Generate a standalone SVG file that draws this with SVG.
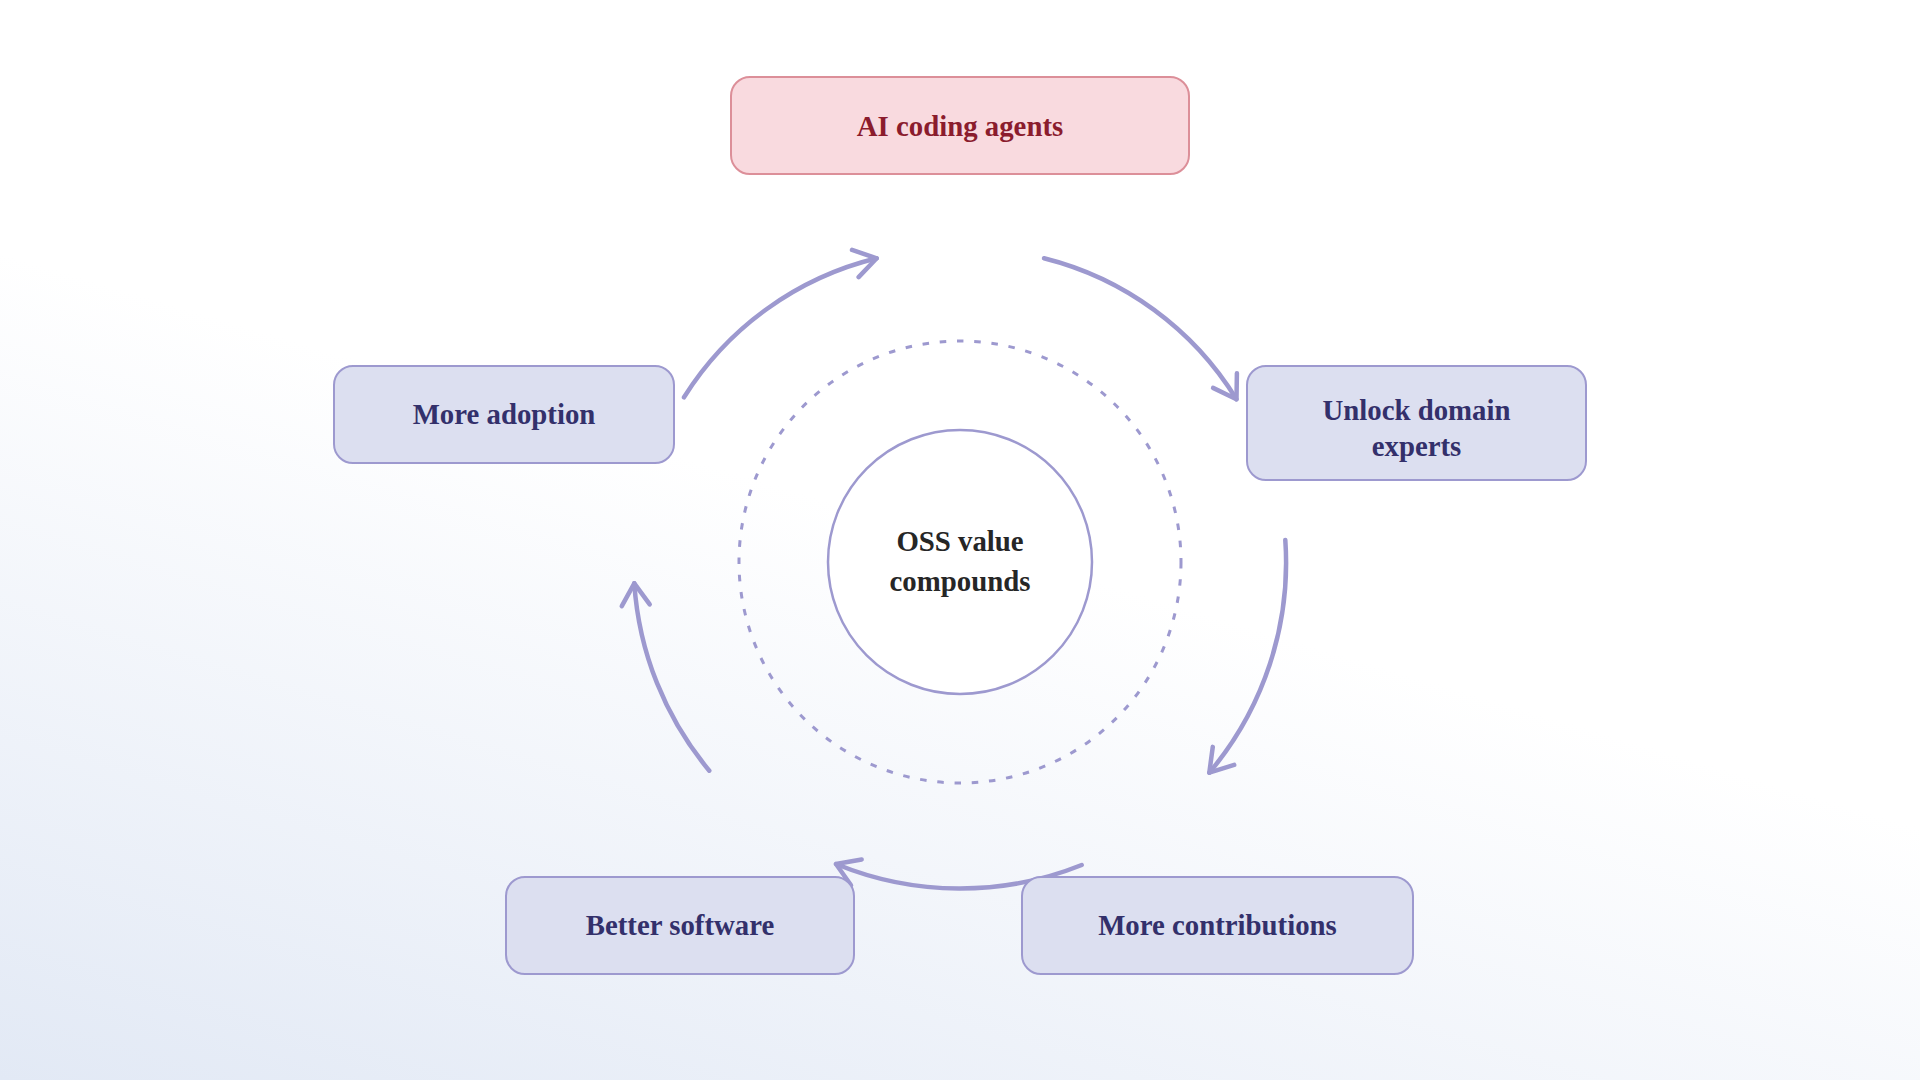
<svg xmlns="http://www.w3.org/2000/svg" width="1920" height="1080" viewBox="0 0 1920 1080">
  <defs>
    <linearGradient id="bg" gradientUnits="userSpaceOnUse" x1="1920" y1="0" x2="1465" y2="1519">
      <stop offset="0" stop-color="#ffffff"/>
      <stop offset="0.5" stop-color="#ffffff"/>
      <stop offset="1" stop-color="#e2e9f5"/>
    </linearGradient>
    <marker id="chev" markerUnits="userSpaceOnUse" markerWidth="60" markerHeight="60" viewBox="-30 -30 60 60" refX="0" refY="0" orient="auto" overflow="visible">
      <path d="M -22 -14 L 0 0 L -22 14" fill="none" stroke="#9d99cf" stroke-width="4.5" stroke-linecap="round" stroke-linejoin="round"/>
    </marker>
    <style>
      .box { fill: #dcdff0; stroke: #9d99cf; stroke-width: 2; }
      .hot { fill: #f9dadf; stroke: #dc8f99; stroke-width: 2; }
      .lbl { font-family: "Liberation Serif", "Times New Roman", serif; font-weight: bold; font-size: 28.8px; fill: #33306b; text-anchor: middle; }
      .hotlbl { fill: #8b1c2d; }
      .ctr { fill: #262626; }
      .arc { fill: none; stroke: #9d99cf; stroke-width: 4.5; stroke-linecap: round; marker-end: url(#chev); }
    </style>
  </defs>

  <rect x="0" y="0" width="1920" height="1080" fill="url(#bg)"/>

  <g id="rings">
    <circle cx="960" cy="562" r="221" fill="none" stroke="#9d99cf" stroke-width="3" stroke-dasharray="6.5 10.8"/>
  </g>

  <g id="connectors">
    <path class="arc" d="M 684 397.3 A 316 316 0 0 1 876.7 258.3"/>
    <path class="arc" d="M 1044 258.3 A 316 316 0 0 1 1236.5 399.3"/>
    <path class="arc" d="M 1285.3 540 A 326 326 0 0 1 1209.3 772.7"/>
    <path class="arc" d="M 1081.7 865 A 326 326 0 0 1 836 864"/>
    <path class="arc" d="M 709.3 770.7 A 326 326 0 0 1 634.3 583.3"/>
  </g>

  <g id="center">
    <circle cx="960" cy="562" r="132" fill="#ffffff" stroke="#9d99cf" stroke-width="2.5"/>
    <text class="lbl ctr" x="960" y="551">OSS value</text>
    <text class="lbl ctr" x="960" y="591">compounds</text>
  </g>

  <g id="ai-coding-agents">
    <rect class="hot" x="731" y="77" width="458" height="97" rx="19"/>
    <text class="lbl hotlbl" x="960" y="136">AI coding agents</text>
  </g>

  <g id="unlock-domain-experts">
    <rect class="box" x="1247" y="366" width="339" height="114" rx="19"/>
    <text class="lbl" x="1416.5" y="420">Unlock domain</text>
    <text class="lbl" x="1416.5" y="456">experts</text>
  </g>

  <g id="more-contributions">
    <rect class="box" x="1022" y="877" width="391" height="97" rx="19"/>
    <text class="lbl" x="1217.5" y="935">More contributions</text>
  </g>

  <g id="better-software">
    <rect class="box" x="506" y="877" width="348" height="97" rx="19"/>
    <text class="lbl" x="680" y="935">Better software</text>
  </g>

  <g id="more-adoption">
    <rect class="box" x="334" y="366" width="340" height="97" rx="19"/>
    <text class="lbl" x="504" y="424">More adoption</text>
  </g>
</svg>
